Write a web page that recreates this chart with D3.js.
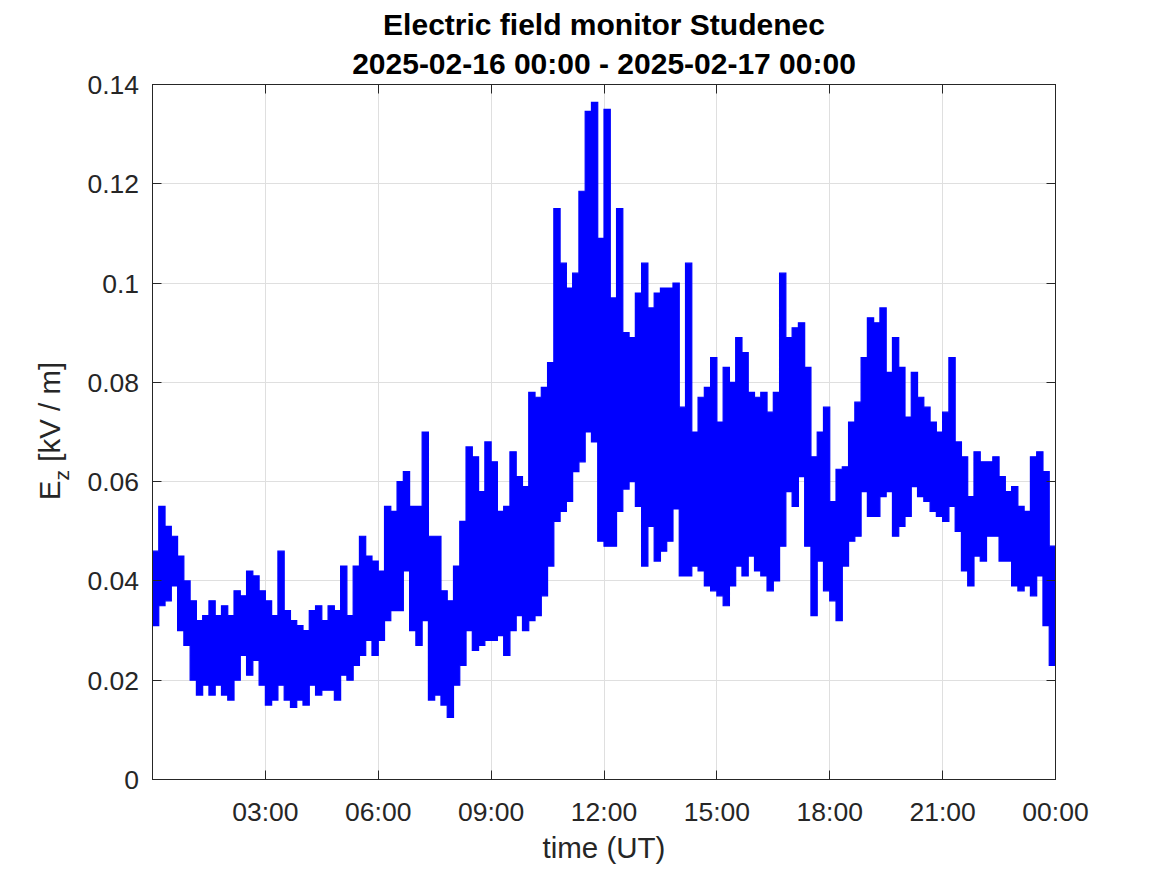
<!DOCTYPE html>
<html><head><meta charset="utf-8">
<script src="https://cdn.jsdelivr.net/npm/d3@7"></script>
<style>
body{margin:0;background:#fff}
svg{display:block}
text{font-family:"Liberation Sans",Arial,Helvetica,sans-serif}
</style>
</head><body><svg id="c" width="1167" height="875"></svg>
<script>
const titleLines = ["Electric field monitor Studenec", "2025-02-16 00:00 - 2025-02-17 00:00"];
const xLabel = "time (UT)";
const binMinutes = 10;
// upper envelope per 10-minute bin (kV/m)
const hiValues = [
0.046,0.055,0.051,0.049,0.045,0.040,0.036,0.032,0.033,0.036,
0.033,0.035,0.033,0.038,0.037,0.042,0.041,0.038,0.036,0.033,
0.046,0.034,0.032,0.031,0.030,0.034,0.035,0.032,0.035,0.034,
0.043,0.033,0.043,0.049,0.045,0.044,0.042,0.055,0.054,0.060,
0.062,0.055,0.055,0.070,0.049,0.049,0.038,0.036,0.043,0.052,
0.067,0.065,0.058,0.068,0.064,0.054,0.055,0.066,0.061,0.059,
0.078,0.077,0.079,0.084,0.115,0.104,0.099,0.102,0.1185,0.1346,
0.1364,0.109,0.135,0.097,0.115,0.090,0.089,0.098,0.104,0.095,
0.098,0.099,0.099,0.100,0.075,0.104,0.070,0.077,0.079,0.085,
0.072,0.083,0.080,0.089,0.086,0.078,0.077,0.078,0.074,0.078,
0.102,0.089,0.091,0.092,0.083,0.065,0.070,0.075,0.056,0.0625,
0.063,0.072,0.076,0.085,0.093,0.092,0.095,0.082,0.089,0.083,
0.073,0.082,0.077,0.075,0.072,0.070,0.074,0.085,0.068,0.065,
0.057,0.066,0.064,0.064,0.065,0.061,0.058,0.059,0.055,0.054,
0.065,0.066,0.062,0.047];
// lower envelope per 10-minute bin (kV/m)
const loValues = [
0.031,0.035,0.036,0.039,0.030,0.027,0.020,0.017,0.019,0.017,
0.019,0.017,0.016,0.020,0.025,0.021,0.024,0.019,0.015,0.016,
0.019,0.016,0.0145,0.016,0.015,0.019,0.017,0.018,0.018,0.016,
0.021,0.020,0.023,0.025,0.028,0.025,0.028,0.032,0.034,0.034,
0.042,0.030,0.027,0.032,0.016,0.017,0.015,0.0125,0.019,0.023,
0.030,0.026,0.027,0.028,0.028,0.029,0.025,0.030,0.033,0.030,
0.032,0.033,0.037,0.043,0.052,0.054,0.056,0.062,0.064,0.070,
0.068,0.048,0.047,0.047,0.054,0.0585,0.060,0.055,0.043,0.051,
0.044,0.046,0.048,0.0545,0.041,0.041,0.043,0.042,0.039,0.038,
0.037,0.035,0.039,0.043,0.041,0.045,0.042,0.041,0.038,0.040,
0.047,0.058,0.055,0.061,0.047,0.033,0.044,0.038,0.036,0.032,
0.043,0.048,0.049,0.058,0.053,0.053,0.057,0.058,0.049,0.051,
0.053,0.059,0.057,0.056,0.054,0.053,0.052,0.055,0.050,0.042,
0.039,0.045,0.044,0.049,0.049,0.044,0.044,0.039,0.038,0.039,
0.037,0.041,0.031,0.023];
const xTickHours = [3,6,9,12,15,18,21,24];
const xTickLabels = ["03:00","06:00","09:00","12:00","15:00","18:00","21:00","00:00"];
const yTickValues = [0,0.02,0.04,0.06,0.08,0.10,0.12,0.14];
const yTickLabels = ["0","0.02","0.04","0.06","0.08","0.1","0.12","0.14"];

const svg = d3.select("#c");
const L = 152.5, R = 1055.5, T = 84.5, B = 779.5;
const x = d3.scaleLinear().domain([0,24]).range([L,R]);
const y = d3.scaleLinear().domain([0,0.14]).range([B,T]);
const px = v => Math.round(v - 0.5) + 0.5;
const axisColor = "#262626", gridColor = "#dfdfdf";

svg.append("rect").attr("width",1167).attr("height",875).attr("fill","#fff");

// grid
const grid = svg.append("g");
xTickHours.forEach(h => grid.append("line")
  .attr("x1",px(x(h))).attr("x2",px(x(h))).attr("y1",T).attr("y2",B)
  .attr("stroke",gridColor).attr("stroke-width",1));
yTickValues.forEach(v => grid.append("line")
  .attr("x1",L).attr("x2",R).attr("y1",px(y(v))).attr("y2",px(y(v)))
  .attr("stroke",gridColor).attr("stroke-width",1));

// data: min/max envelope of the dense record, one step per bin
const bins = hiValues.map((hv,i) => ({t: i*binMinutes/60, hi: hv, lo: loValues[i]}));
const last = bins[bins.length-1];
bins.push({t: 24, hi: last.hi, lo: last.lo});
svg.append("clipPath").attr("id","clip").append("rect")
  .attr("x",L).attr("y",T).attr("width",R-L).attr("height",B-T);
svg.append("path").datum(bins)
  .attr("clip-path","url(#clip)")
  .attr("fill","#0000ff").attr("stroke","#0000ff").attr("stroke-width",1.2)
  .attr("stroke-linejoin","miter")
  .attr("d", d3.area().x(d=>x(d.t)).y0(d=>y(d.lo)).y1(d=>y(d.hi)).curve(d3.curveStepAfter));

// box
svg.append("rect").attr("x",L).attr("y",T).attr("width",R-L).attr("height",B-T)
  .attr("fill","none").attr("stroke",axisColor).attr("stroke-width",1);

// ticks
const tl = 9;
const ticks = svg.append("g").attr("stroke",axisColor).attr("stroke-width",1);
xTickHours.forEach(h => {
  const xx = px(x(h));
  ticks.append("line").attr("x1",xx).attr("x2",xx).attr("y1",B).attr("y2",B-tl);
  ticks.append("line").attr("x1",xx).attr("x2",xx).attr("y1",T).attr("y2",T+tl);
});
yTickValues.forEach(v => {
  const yy = px(y(v));
  ticks.append("line").attr("x1",L).attr("x2",L+tl).attr("y1",yy).attr("y2",yy);
  ticks.append("line").attr("x1",R).attr("x2",R-tl).attr("y1",yy).attr("y2",yy);
});

// tick labels
xTickHours.forEach((h,i) => svg.append("text")
  .attr("x",x(h)).attr("y",821).attr("text-anchor","middle")
  .attr("font-size","26.5px").attr("fill",axisColor).text(xTickLabels[i]));
yTickValues.forEach((v,i) => svg.append("text")
  .attr("x",139).attr("y",y(v)+9.5).attr("text-anchor","end")
  .attr("font-size","26.5px").attr("fill",axisColor).text(yTickLabels[i]));

// titles
svg.append("text").attr("x",604).attr("y",35).attr("text-anchor","middle")
  .attr("font-size","30px").attr("font-weight","bold").attr("fill","#000").text(titleLines[0]);
svg.append("text").attr("x",604).attr("y",74).attr("text-anchor","middle")
  .attr("font-size","30px").attr("font-weight","bold").attr("fill","#000").text(titleLines[1]);

// axis labels
svg.append("text").attr("x",604).attr("y",858).attr("text-anchor","middle")
  .attr("font-size","29.5px").attr("fill",axisColor).text(xLabel);
const yl = svg.append("text").attr("transform","translate(60,431) rotate(-90)")
  .attr("text-anchor","middle").attr("font-size","29.5px").attr("fill",axisColor);
yl.append("tspan").text("E");
yl.append("tspan").attr("font-size","21px").attr("dy",9).text("z");
yl.append("tspan").attr("dy",-9).text(" [kV / m]");
</script>
</body></html>
